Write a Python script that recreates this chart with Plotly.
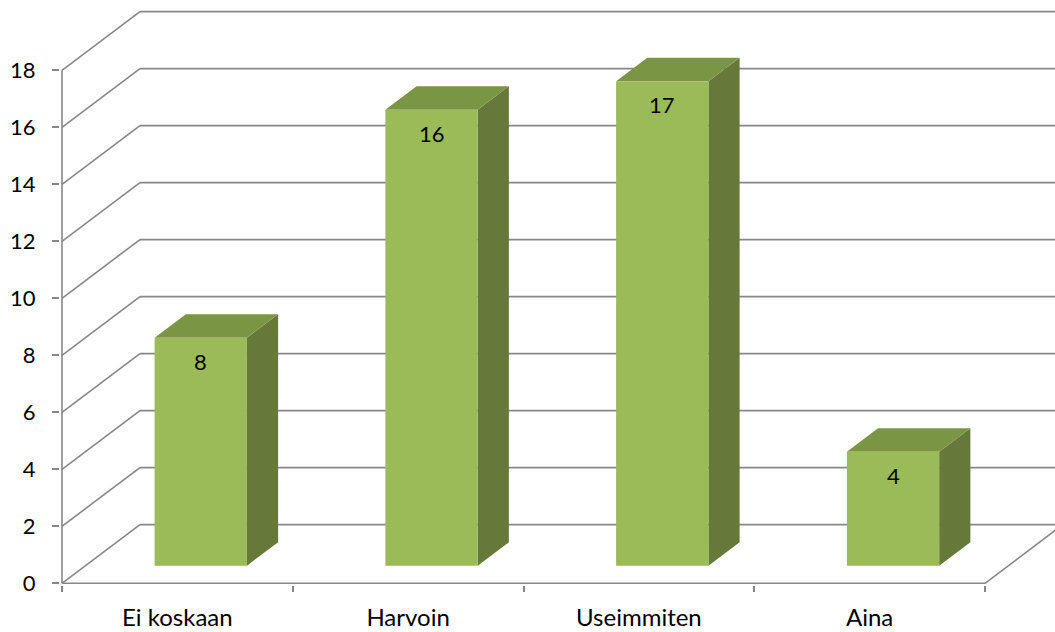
import plotly.graph_objects as go

# Data
categories = ["Ei koskaan", "Harvoin", "Useimmiten", "Aina"]
values = [8, 16, 17, 4]
y_ticks = [0, 2, 4, 6, 8, 10, 12, 14, 16, 18]

# Oblique projection of the depth axis, expressed in data units
DX = 0.338          # horizontal shift of the back wall (category units)
DY = 2.06           # vertical shift of the back wall (value units)
BAR_W = 0.4         # bar width as a fraction of one category slot
T_FRONT, T_BACK = 0.3, 0.7   # bar depth position between front and back wall

FRONT = "#9BBB59"
TOP = "#7A9644"
SIDE = "#66793A"
GRID = "#878787"
FONT = "Lato"

# Pixel geometry of the plotting area
PX_X = 230.75   # px per category
PX_Y = 28.5     # px per value unit
L, B = 60, 47
W, H = 1055, 632
x_lo = -(62 - L) / PX_X
x_hi = x_lo + (W - L) / PX_X
y_lo = -((H - B) - 583.3) / PX_Y
y_hi = y_lo + (H - B) / PX_Y

shapes = []
line = dict(color=GRID, width=1.6)

# Left wall diagonals and back wall horizontal gridlines
for v in y_ticks:
    shapes.append(dict(type="line", xref="x", yref="y", x0=0, y0=v,
                       x1=DX, y1=v + DY, line=line, layer="below"))
    shapes.append(dict(type="line", xref="x", yref="y", x0=DX, y0=v + DY,
                       x1=len(categories) + DX, y1=v + DY, line=line, layer="below"))

# Floor front edge, right floor edge and vertical value axis
n = len(categories)
shapes.append(dict(type="line", xref="x", yref="y", x0=0, y0=0, x1=n, y1=0,
                   line=line, layer="below"))
shapes.append(dict(type="line", xref="x", yref="y", x0=n, y0=0, x1=n + DX, y1=DY,
                   line=line, layer="below"))
shapes.append(dict(type="line", xref="x", yref="y", x0=0, y0=0, x1=0, y1=max(y_ticks),
                   line=line, layer="below"))

# Bar side and top faces
base = T_FRONT * DY
ddx = (T_BACK - T_FRONT) * DX
ddy = (T_BACK - T_FRONT) * DY
bar_x = []
annotations = []
for i, v in enumerate(values):
    cx = i + 0.5 + T_FRONT * DX
    bar_x.append(cx)
    xl, xr = cx - BAR_W / 2, cx + BAR_W / 2
    top = base + v
    side = f"M {xr},{base} L {xr},{top} L {xr + ddx},{top + ddy} L {xr + ddx},{base + ddy} Z"
    lid = f"M {xl},{top} L {xr},{top} L {xr + ddx},{top + ddy} L {xl + ddx},{top + ddy} Z"
    shapes.append(dict(type="path", xref="x", yref="y", path=side,
                       fillcolor=SIDE, line=dict(width=0), layer="below"))
    shapes.append(dict(type="path", xref="x", yref="y", path=lid,
                       fillcolor=TOP, line=dict(width=0), layer="below"))
    annotations.append(dict(x=cx, y=top, xref="x", yref="y", text=str(v),
                            showarrow=False, yanchor="top", yshift=-8,
                            font=dict(family=FONT, size=22, color="black")))

fig = go.Figure()
fig.add_trace(go.Bar(
    x=bar_x, y=values, base=[base] * n, width=BAR_W,
    marker=dict(color=FRONT, line=dict(width=0)),
    hoverinfo="skip", showlegend=False,
))

fig.update_layout(
    width=W, height=H,
    margin=dict(l=L, r=0, t=0, b=B),
    paper_bgcolor="white", plot_bgcolor="white",
    shapes=shapes, annotations=annotations,
    showlegend=False,
    font=dict(family=FONT, size=22, color="black"),
    xaxis=dict(
        range=[x_lo, x_hi], showgrid=False, zeroline=False, showline=False,
        tickmode="array", tickvals=[i + 0.5 for i in range(n)], ticktext=categories,
        ticks="", ticklabelstandoff=16, tickfont=dict(family=FONT, size=24),
        minor=dict(tickmode="array", tickvals=list(range(n + 1)), ticks="outside",
                   ticklen=6, tickwidth=1.6, tickcolor=GRID, showgrid=False),
        fixedrange=True,
    ),
    yaxis=dict(
        range=[y_lo, y_hi], showgrid=False, zeroline=False, showline=False,
        tickmode="array", tickvals=y_ticks, ticks="outside", ticklen=7,
        tickwidth=1.6, tickcolor=GRID, ticklabelstandoff=12,
        tickfont=dict(family=FONT, size=22),
        fixedrange=True,
    ),
)

fig.write_html("out.html")
